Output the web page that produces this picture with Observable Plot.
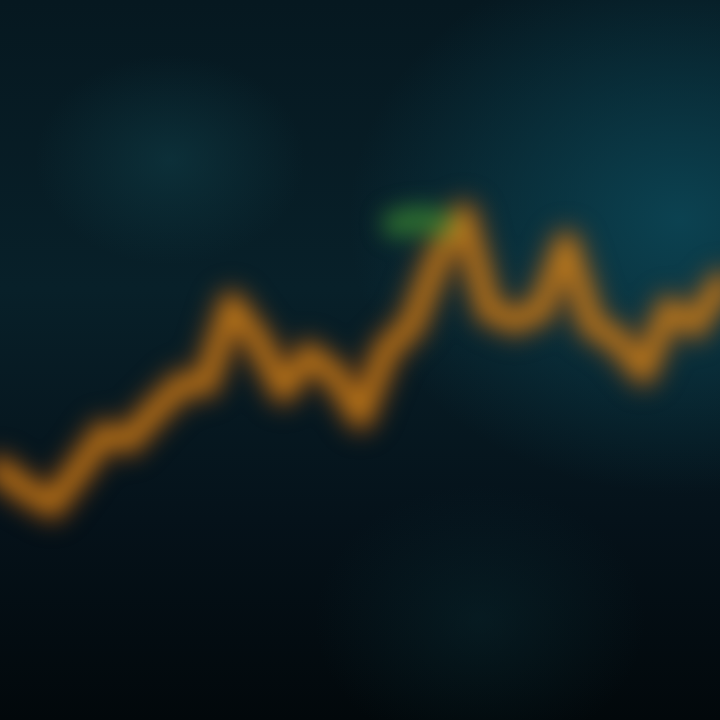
<!DOCTYPE html>
<html>
<head>
<meta charset="utf-8">
<script src="https://cdn.jsdelivr.net/npm/d3@7"></script>
<script src="https://cdn.jsdelivr.net/npm/@observablehq/plot@0.6"></script>
<style>
  html, body { margin: 0; padding: 0; width: 720px; height: 720px; overflow: hidden; }
  body {
    background:
      radial-gradient(ellipse 460px 380px at 680px 220px, rgba(12,72,88,0.85), rgba(12,72,88,0) 72%),
      radial-gradient(ellipse 180px 140px at 170px 160px, rgba(18,70,80,0.45), rgba(18,70,80,0) 75%),
      radial-gradient(ellipse 220px 180px at 480px 620px, rgba(12,52,60,0.35), rgba(12,52,60,0) 75%),
      linear-gradient(180deg, #061820 0%, #082029 40%, #05121a 72%, #02080b 100%);
  }
  #chart { position: absolute; left: 0; top: 0; }
</style>
</head>
<body>
<div id="chart"></div>
<script>
// Series (index along x, value up)
const steps  = [0, 1, 2, 3, 4, 5, 6, 7, 8, 9, 10, 11, 12, 13, 14, 15, 16, 17, 18, 19, 20, 21, 22, 23, 24, 25, 26, 27, 28];
const values = [34.7, 32, 30, 34.7, 39.6, 39, 43, 46.5, 47, 57.6, 52.8, 46, 50.7, 48, 42.4, 51.4, 55, 64, 70, 57, 55.5, 57, 66, 55, 52.8, 48.6, 57, 55, 60.4];
// greenish streak near the peak
const hiSteps  = [15.4, 16.3, 17.2];
const hiValues = [69, 69.6, 69];

const data = steps.map((s, i) => ({step: s, value: values[i]}));
const hi = hiSteps.map((s, i) => ({step: s, value: hiValues[i]}));

const chart = Plot.plot({
  width: 720,
  height: 720,
  margin: 0,
  x: {domain: [0, 28], axis: null},
  y: {domain: [0, 100], axis: null},
  style: {background: "transparent", overflow: "visible"},
  marks: [
    Plot.line(data, {x: "step", y: "value", stroke: "#b04e08", strokeWidth: 44, strokeOpacity: 0.28, strokeLinejoin: "round"}),
    Plot.line(data, {x: "step", y: "value", stroke: "#cc6e0e", strokeWidth: 24, strokeOpacity: 0.6, strokeLinejoin: "round"}),
    Plot.line(hi, {x: "step", y: "value", stroke: "#3c8a30", strokeWidth: 28, strokeOpacity: 0.7, strokeLinecap: "round"}),
    Plot.line(data, {x: "step", y: "value", stroke: "#dc9522", strokeWidth: 10, strokeOpacity: 0.7, strokeLinejoin: "round"})
  ]
});
chart.style.filter = "blur(11px)";
document.getElementById("chart").append(chart);
</script>
</body>
</html>
